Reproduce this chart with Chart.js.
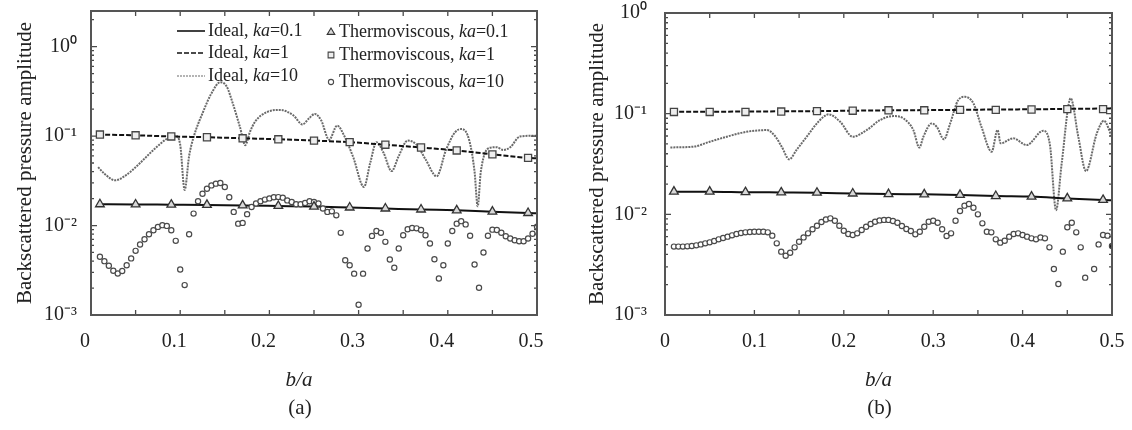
<!DOCTYPE html>
<html><head><meta charset="utf-8">
<script src="https://cdn.jsdelivr.net/npm/chart.js@4/dist/chart.umd.min.js"></script>
<style>
html,body{margin:0;padding:0;background:#fff;}
#wrap{position:relative;width:1132px;height:430px;overflow:hidden;}
.box{position:absolute;top:0;width:566px;height:430px;}
</style></head><body>
<div id="wrap">
<div class="box" style="left:0"><canvas id="ca" width="566" height="430"></canvas></div>
<div class="box" style="left:566px"><canvas id="cb" width="566" height="430"></canvas></div>
</div>
<script>
// ---------- axis ticks / texts ----------
const xTickValues = [0, 0.1, 0.2, 0.3, 0.4, 0.5];
const xTickLabels = ['0', '0.1', '0.2', '0.3', '0.4', '0.5'];
const yTickValues = [0.001, 0.01, 0.1, 1];
const yTickLabels = ['10\u207B\u00B3', '10\u207B\u00B2', '10\u207B\u00B9', '10\u2070'];
const xTitleText = 'b/a';
const yTitleText = 'Backscattered pressure amplitude';
const captions = ['(a)', '(b)'];
const seriesNames = ['Ideal, ka=0.1', 'Ideal, ka=1', 'Ideal, ka=10',
  'Thermoviscous, ka=0.1', 'Thermoviscous, ka=1', 'Thermoviscous, ka=10'];

// ---------- shared x grids ----------
const lineX = [0.008, 0.05, 0.09, 0.13, 0.17, 0.21, 0.25, 0.29, 0.33, 0.37, 0.41, 0.45, 0.49, 0.5];
const markerX = [0.01, 0.05, 0.09, 0.13, 0.17, 0.21, 0.25, 0.29, 0.33, 0.37, 0.41, 0.45, 0.49];
const tvX = [0.01, 0.015, 0.02, 0.025, 0.03, 0.035, 0.04, 0.045, 0.05, 0.055,
  0.06, 0.065, 0.07, 0.075, 0.08, 0.085, 0.09, 0.095, 0.1, 0.105,
  0.11, 0.115, 0.12, 0.125, 0.13, 0.135, 0.14, 0.145, 0.15, 0.155,
  0.16, 0.165, 0.17, 0.175, 0.18, 0.185, 0.19, 0.195, 0.2, 0.205,
  0.21, 0.215, 0.22, 0.225, 0.23, 0.235, 0.24, 0.245, 0.25, 0.255,
  0.26, 0.265, 0.27, 0.275, 0.28, 0.285, 0.29, 0.295, 0.3, 0.305,
  0.31, 0.315, 0.32, 0.325, 0.33, 0.335, 0.34, 0.345, 0.35, 0.355,
  0.36, 0.365, 0.37, 0.375, 0.38, 0.385, 0.39, 0.395, 0.4, 0.405,
  0.41, 0.415, 0.42, 0.425, 0.43, 0.435, 0.44, 0.445, 0.45, 0.455,
  0.46, 0.465, 0.47, 0.475, 0.48, 0.485, 0.49, 0.495, 0.5];

// ---------- panel (a) ----------
const aIdealKa01 = [0.0173, 0.0172, 0.0171, 0.0170, 0.0168, 0.01655, 0.0163, 0.0159, 0.0155, 0.0151, 0.0148, 0.0143, 0.0138, 0.0137];
const aIdealKa1 = [0.104, 0.102, 0.099, 0.097, 0.0945, 0.092, 0.089, 0.0855, 0.080, 0.0745, 0.069, 0.0625, 0.057, 0.0565];
const aKa10X = [0.008, 0.015, 0.027, 0.04, 0.055, 0.07, 0.085, 0.095, 0.1, 0.105,
  0.11, 0.115, 0.126, 0.135, 0.145, 0.152, 0.159, 0.167, 0.173, 0.178,
  0.184, 0.197, 0.212, 0.227, 0.237, 0.245, 0.251, 0.258, 0.267, 0.276,
  0.284, 0.294, 0.306, 0.313, 0.32, 0.328, 0.337, 0.345, 0.355, 0.365,
  0.375, 0.3875, 0.398, 0.408, 0.4155, 0.424, 0.43, 0.4335, 0.437, 0.447,
  0.455, 0.462, 0.47, 0.481, 0.5];
const aIdealKa10 = [0.045, 0.038, 0.032, 0.037, 0.05, 0.07, 0.093, 0.1, 0.08, 0.025,
  0.06, 0.097, 0.19, 0.3, 0.40, 0.36, 0.231, 0.126, 0.079, 0.11,
  0.145, 0.185, 0.196, 0.17, 0.135, 0.16, 0.177, 0.15, 0.091, 0.131,
  0.1, 0.058, 0.027, 0.05, 0.0855, 0.065, 0.0406, 0.06, 0.089, 0.08,
  0.055, 0.0355, 0.07, 0.11, 0.12, 0.09, 0.04, 0.0164, 0.04, 0.074,
  0.075, 0.07, 0.075, 0.099, 0.101];
const aTvKa01 = [0.0173, 0.0172, 0.0171, 0.0170, 0.0168, 0.01655, 0.0163, 0.0159, 0.0155, 0.0151, 0.0148, 0.0143, 0.0138];
const aTvKa1 = [0.104, 0.102, 0.099, 0.097, 0.0945, 0.092, 0.089, 0.0855, 0.080, 0.0745, 0.069, 0.0625, 0.057];
const aTvKa10 = [0.00447, 0.0040, 0.00355, 0.00312, 0.00291, 0.0031, 0.0036, 0.00429, 0.00521, 0.00613,
  0.00703, 0.0080, 0.00887, 0.00966, 0.0101, 0.0099, 0.00887, 0.00674, 0.00323, 0.00216,
  0.0080, 0.0136, 0.0187, 0.0227, 0.0258, 0.0281, 0.0294, 0.0299, 0.027, 0.0207,
  0.0142, 0.0105, 0.0107, 0.0134, 0.0161, 0.0176, 0.0187, 0.0195, 0.0201, 0.0207,
  0.0208, 0.0205, 0.0191, 0.0183, 0.0173, 0.0173, 0.0179, 0.0187, 0.0183, 0.0176,
  0.0155, 0.0142, 0.0144, 0.0130, 0.00828, 0.0041, 0.0036, 0.0029, 0.0013, 0.0029,
  0.00553, 0.00766, 0.0087, 0.00828, 0.00657, 0.00418, 0.00337, 0.00553, 0.0078, 0.0091,
  0.0094, 0.0093, 0.0089, 0.0078, 0.0063, 0.0042, 0.00256, 0.0036, 0.0063, 0.0087,
  0.0105, 0.0112, 0.0103, 0.0077, 0.00367, 0.00202, 0.0050, 0.0077, 0.0090, 0.0089,
  0.0083, 0.0076, 0.00716, 0.00686, 0.00668, 0.00668, 0.00716, 0.0081, 0.0097];

// ---------- panel (b) ----------
const bIdealKa01 = [0.0168, 0.0168, 0.0166, 0.0165, 0.0164, 0.0161, 0.0159, 0.0158, 0.0156, 0.0152, 0.0150, 0.0144, 0.0139, 0.0138];
const bIdealKa1 = [0.1045, 0.1045, 0.105, 0.1055, 0.106, 0.107, 0.108, 0.1085, 0.109, 0.110, 0.1105, 0.1115, 0.1125, 0.113];
const bKa10X = [0.006, 0.032, 0.05, 0.069, 0.091, 0.114, 0.123, 0.1305, 0.139, 0.147,
  0.1585, 0.1715, 0.183, 0.196, 0.21, 0.2256, 0.2405, 0.2554, 0.2666, 0.2778,
  0.2845, 0.289, 0.2983, 0.304, 0.312, 0.319, 0.328, 0.3356, 0.345, 0.354,
  0.3654, 0.372, 0.3755, 0.3896, 0.4046, 0.423, 0.4306, 0.4374, 0.4437, 0.4538,
  0.4623, 0.4709, 0.483, 0.491, 0.4998];
const bIdealKa10 = [0.0462, 0.047, 0.0526, 0.059, 0.066, 0.0687, 0.060, 0.047, 0.0352, 0.0435,
  0.059, 0.083, 0.0984, 0.083, 0.059, 0.0687, 0.0863, 0.0946, 0.0898, 0.0687,
  0.046, 0.059, 0.080, 0.074, 0.0556, 0.080, 0.1365, 0.147, 0.1265, 0.074,
  0.0419, 0.0687, 0.0507, 0.0569, 0.0488, 0.0676, 0.0488, 0.011, 0.032, 0.142,
  0.059, 0.0269, 0.0637, 0.085, 0.059];
const bTvKa01 = [0.0168, 0.0168, 0.0166, 0.0165, 0.0164, 0.0161, 0.0159, 0.0158, 0.0156, 0.0152, 0.0150, 0.0144, 0.0139];
const bTvKa1 = [0.104, 0.104, 0.104, 0.105, 0.106, 0.107, 0.108, 0.108, 0.109, 0.109, 0.110, 0.111, 0.111];
const bTvKa10 = [0.00478, 0.00478, 0.00478, 0.00481, 0.00484, 0.00492, 0.00503, 0.00515, 0.00527, 0.00543,
  0.00564, 0.00582, 0.0060, 0.00618, 0.00638, 0.00652, 0.00662, 0.00667, 0.00672, 0.00672,
  0.00672, 0.00662, 0.00614, 0.00515, 0.00426, 0.00388, 0.00416, 0.0047, 0.00535, 0.0059,
  0.00647, 0.0071, 0.0077, 0.0084, 0.0089, 0.00912, 0.00864, 0.0077, 0.00688, 0.00638,
  0.00623, 0.00647, 0.00698, 0.00754, 0.00801, 0.00845, 0.0087, 0.0088, 0.0088, 0.0086,
  0.00826, 0.00765, 0.00714, 0.00683, 0.00633, 0.00672, 0.00754, 0.00845, 0.00864, 0.00826,
  0.0071, 0.0061, 0.00647, 0.00864, 0.0108, 0.0122, 0.01266, 0.01164, 0.0100, 0.00814,
  0.00672, 0.00662, 0.00564, 0.00523, 0.00547, 0.0060, 0.00638, 0.00647, 0.00623, 0.0060,
  0.00577, 0.00564, 0.0059, 0.00577, 0.0047, 0.00286, 0.00203, 0.00426, 0.00743, 0.00826,
  0.00662, 0.0047, 0.00235, null, 0.00286, 0.00503, 0.00623, 0.00614, 0.00484];

// ---------- helpers ----------
const SERIF = '"Liberation Serif", "Times New Roman", serif';
const pts = (xs, ys) => xs.map((x, i) => ({x: x, y: ys[i]}));

function drawMarker(ctx, style, x, y, r) {
  ctx.beginPath();
  if (style === 'triangle') {
    ctx.moveTo(x, y - r); ctx.lineTo(x + r * 0.95, y + r * 0.6); ctx.lineTo(x - r * 0.95, y + r * 0.6); ctx.closePath();
  } else if (style === 'rect') {
    const s = r * 0.72; ctx.rect(x - s, y - s, 2 * s, 2 * s);
  } else {
    ctx.arc(x, y, r, 0, Math.PI * 2);
  }
  ctx.fill(); ctx.stroke();
}

function drawRich(ctx, text, x, y, size) {
  const idx = text.indexOf('ka');
  const parts = [[text.slice(0, idx), false], ['ka', true], [text.slice(idx + 2), false]];
  let cx = x;
  for (const [t, it] of parts) {
    ctx.font = (it ? 'italic ' : '') + size + 'px ' + SERIF;
    ctx.fillText(t, cx, y);
    cx += ctx.measureText(t).width;
  }
}

const framePlugin = {
  id: 'frame',
  afterDatasetsDraw(chart, args, o) {
    const {ctx, chartArea: a, scales: {x, y}} = chart;
    ctx.save();
    ctx.strokeStyle = '#4a4a4a';
    ctx.lineWidth = 1.3;
    ctx.beginPath();
    for (let k = 1; k < 10; k++) {
      const px = x.getPixelForValue(k * 0.05);
      ctx.moveTo(px, a.bottom); ctx.lineTo(px, a.bottom - 5);
      ctx.moveTo(px, a.top); ctx.lineTo(px, a.top + 5);
    }
    for (let d = -3; d <= 0; d++) {
      for (let m = 1; m <= 9; m++) {
        const v = m * Math.pow(10, d);
        if (v <= y.min * 1.0001 || v >= y.max * 0.9999) continue;
        const py = y.getPixelForValue(v);
        const L = m === 1 ? 6 : 3;
        ctx.moveTo(a.left, py); ctx.lineTo(a.left + L, py);
        ctx.moveTo(a.right, py); ctx.lineTo(a.right - L, py);
      }
    }
    ctx.stroke();
    ctx.lineWidth = 2;
    ctx.strokeStyle = '#555';
    ctx.strokeRect(a.left, a.top, a.right - a.left, a.bottom - a.top);
    ctx.restore();
  },
  afterDraw(chart, args, o) {
    const {ctx, chartArea: a} = chart;
    ctx.save();
    ctx.fillStyle = '#222';
    ctx.textBaseline = 'middle';
    ctx.textAlign = 'center';
    const cx = (a.left + a.right) / 2 + o.dx;
    ctx.font = 'italic 21px ' + SERIF;
    ctx.fillText(xTitleText, cx, 380);
    ctx.font = '21px ' + SERIF;
    ctx.fillText(o.caption, cx + 1, 408);
    if (o.legend) {
      ctx.textAlign = 'left';
      const ds = chart.data.datasets;
      const rowsL = [31, 53, 76];
      const rowsR = [32, 55, 82];
      for (let i = 0; i < 3; i++) {
        const d = ds[i];
        ctx.save();
        ctx.strokeStyle = d.borderColor;
        ctx.lineWidth = i === 2 ? 1.2 : 1.6;
        ctx.setLineDash(d.borderDash || []);
        ctx.beginPath(); ctx.moveTo(177, rowsL[i]); ctx.lineTo(205, rowsL[i]); ctx.stroke();
        ctx.restore();
        ctx.fillStyle = '#222';
        drawRich(ctx, seriesNames[i], 208, rowsL[i], 18);
      }
      for (let i = 3; i < 6; i++) {
        const d = ds[i];
        ctx.save();
        ctx.strokeStyle = d.pointBorderColor;
        ctx.fillStyle = d.legendFill;
        ctx.lineWidth = 1.1;
        drawMarker(ctx, d.pointStyle, 331, rowsR[i - 3], d.legendR);
        ctx.restore();
        ctx.fillStyle = '#222';
        drawRich(ctx, seriesNames[i], 339, rowsR[i - 3], 18);
      }
    }
    ctx.restore();
  }
};

function makeChart(id, cfg) {
  const datasets = [
    {label: seriesNames[0], data: pts(lineX, cfg.ideal01), borderColor: '#111', borderWidth: 2,
     pointRadius: 0, cubicInterpolationMode: 'monotone', order: 3},
    {label: seriesNames[1], data: pts(lineX, cfg.ideal1), borderColor: '#111', borderWidth: 2,
     borderDash: [5, 2], pointRadius: 0, cubicInterpolationMode: 'monotone', order: 3},
    {label: seriesNames[2], data: pts(cfg.ka10X, cfg.ideal10), borderColor: '#6a6a6a', borderWidth: 2,
     borderDash: [2, 1], pointRadius: 0, cubicInterpolationMode: 'monotone', order: 4},
    {label: seriesNames[3], data: pts(markerX, cfg.tv01), showLine: false, pointStyle: 'triangle',
     pointRadius: 5, pointBorderColor: '#333', pointBackgroundColor: '#d8d8d8', pointBorderWidth: 1.3,
     legendFill: '#d8d8d8', legendR: 4, order: 1},
    {label: seriesNames[4], data: pts(markerX, cfg.tv1), showLine: false, pointStyle: 'rect',
     pointRadius: 5, pointBorderColor: '#444', pointBackgroundColor: '#eee', pointBorderWidth: 1.3,
     legendFill: '#eee', legendR: 4, order: 1},
    {label: seriesNames[5], data: pts(tvX, cfg.tv10), showLine: false, pointStyle: 'circle',
     pointRadius: 2.6, pointBorderColor: '#4a4a4a', pointBorderWidth: 1.2,
     pointBackgroundColor: (c) => (cfg.filledLast && c.dataIndex === cfg.tv10.length - 1) ? '#111' : '#fff',
     legendFill: '#fff', legendR: 2.6, order: 2}
  ];
  return new Chart(document.getElementById(id), {
    type: 'line',
    data: {datasets},
    plugins: [framePlugin],
    options: {
      responsive: false,
      animation: false,
      layout: {padding: {left: 0, right: cfg.padRight, top: cfg.padTop, bottom: 0}},
      plugins: {legend: {display: false}, tooltip: {enabled: false},
        frame: {legend: cfg.legend, caption: cfg.caption, dx: cfg.dx}},
      scales: {
        x: {
          type: 'linear', min: 0, max: 0.5,
          grid: {display: false, drawTicks: false}, border: {display: false},
          afterBuildTicks: (s) => { s.ticks = xTickValues.map(v => ({value: v})); },
          afterFit: (s) => { s.height = 115; s.paddingLeft = 0; s.paddingRight = 0; },
          ticks: {font: {family: SERIF, size: 20}, color: '#222', padding: 15, labelOffset: cfg.xLabelOffset,
            maxRotation: 0, autoSkip: false,
            callback: (v, i) => xTickLabels[i]}
        },
        y: {
          type: 'logarithmic', min: 0.001, max: cfg.yMax,
          grid: {display: false, drawTicks: false}, border: {display: false},
          afterBuildTicks: (s) => { s.ticks = yTickValues.map(v => ({value: v})); },
          afterFit: (s) => { s.width = cfg.yWidth; s.paddingTop = 0; s.paddingBottom = 0; },
          ticks: {font: {family: SERIF, size: 20}, color: '#222', padding: cfg.yPad, autoSkip: false,
            callback: (v) => { const k = yTickValues.indexOf(v); return k >= 0 ? yTickLabels[k] : ''; }},
          title: {display: true, text: yTitleText, color: '#222',
            font: {family: SERIF, size: 21}, padding: {top: cfg.yTitlePad, bottom: 0}}
        }
      }
    }
  });
}

makeChart('ca', {
  ideal01: aIdealKa01, ideal1: aIdealKa1, ka10X: aKa10X, ideal10: aIdealKa10,
  tv01: aTvKa01, tv1: aTvKa1, tv10: aTvKa10,
  yMax: 2.5, padRight: 29, padTop: 11, yWidth: 91, yPad: 14, yTitlePad: 13,
  xLabelOffset: -6, legend: true, caption: captions[0], dx: -15, filledLast: false
});
makeChart('cb', {
  ideal01: bIdealKa01, ideal1: bIdealKa1, ka10X: bKa10X, ideal10: bIdealKa10,
  tv01: bTvKa01, tv1: bTvKa1, tv10: bTvKa10,
  yMax: 1, padRight: 20, padTop: 13, yWidth: 99, yPad: 18, yTitlePad: 19,
  xLabelOffset: 0, legend: false, caption: captions[1], dx: -10, filledLast: true
});
</script>
</body></html>
